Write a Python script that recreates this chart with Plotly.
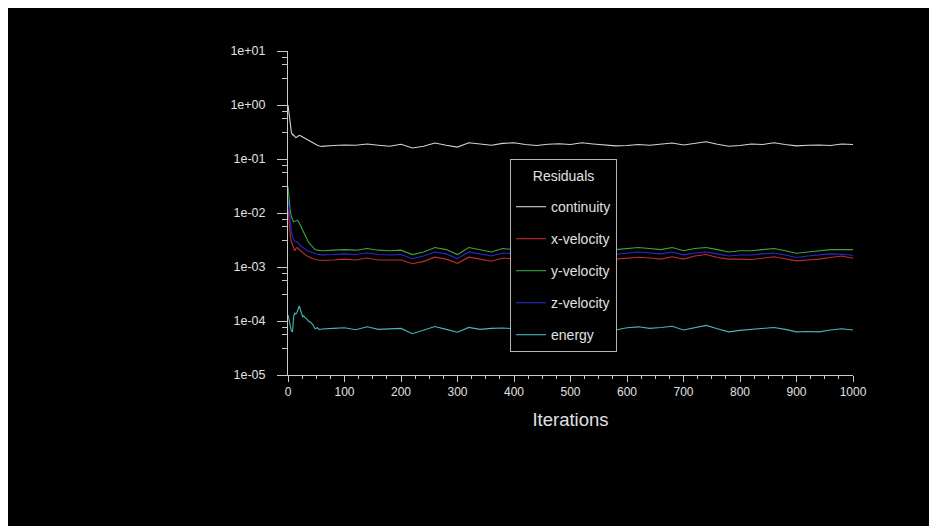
import plotly.graph_objects as go

# ---------------- data ----------------
iterations = [0, 2, 4, 6, 8, 10, 12, 14, 16, 18, 20, 22, 24, 26, 28, 30, 33, 36, 40, 44, 48, 52, 56,
              60, 80, 100, 120, 140, 160, 180, 200, 220, 240, 260, 280, 300, 320, 340, 360, 380,
              400, 420, 440, 460, 480, 500, 520, 540, 560, 580, 600, 620, 640, 660, 680, 700,
              720, 740, 760, 780, 800, 820, 840, 860, 880, 900, 920, 940, 960, 980, 1000]

continuity = [1.0, 0.62, 0.38, 0.31, 0.28, 0.28, 0.26, 0.25, 0.255, 0.265, 0.275, 0.27, 0.262, 0.255,
              0.248, 0.242, 0.235, 0.222, 0.208, 0.196, 0.186, 0.179, 0.174,
              0.171, 0.178, 0.182, 0.18, 0.19, 0.18, 0.172, 0.188, 0.16, 0.172, 0.198, 0.18, 0.166,
              0.2, 0.19, 0.18, 0.195, 0.2, 0.185, 0.178, 0.188, 0.192, 0.185, 0.2, 0.19, 0.182,
              0.175, 0.178, 0.185, 0.18, 0.19, 0.198, 0.182, 0.195, 0.208, 0.188, 0.172, 0.178,
              0.19, 0.185, 0.2, 0.185, 0.175, 0.18, 0.182, 0.178, 0.19, 0.185]

x_velocity = [0.012, 0.0065, 0.0038, 0.0029, 0.0025, 0.0021, 0.002, 0.0022, 0.0023, 0.0022, 0.0021,
              0.002, 0.0019, 0.00185, 0.0018, 0.0017, 0.00162, 0.00155, 0.00148, 0.00142, 0.00138,
              0.00135, 0.00133,
              0.00132, 0.00135, 0.0014, 0.00135, 0.00147, 0.00135, 0.00133, 0.00135, 0.00115,
              0.00127, 0.00152, 0.0014, 0.00117, 0.00152, 0.0014, 0.00128, 0.00147, 0.0014,
              0.00128, 0.00133, 0.0014, 0.00147, 0.00133, 0.0014, 0.00128, 0.0014, 0.0014,
              0.00145, 0.00152, 0.00147, 0.0014, 0.00155, 0.0014, 0.0016, 0.0017, 0.0015, 0.0014,
              0.0014, 0.00138, 0.00145, 0.00155, 0.00142, 0.0013, 0.00135, 0.0014, 0.0015, 0.0016,
              0.00145]

y_velocity = [0.031, 0.016, 0.011, 0.0085, 0.0072, 0.0068, 0.007, 0.0073, 0.0074, 0.0071, 0.0066,
              0.006, 0.0054, 0.0048, 0.0043, 0.0039, 0.0034, 0.0029, 0.0026, 0.0023, 0.0021,
              0.00205, 0.002,
              0.002, 0.00205, 0.0021, 0.00205, 0.0022, 0.00205, 0.002, 0.00205, 0.0017, 0.0019,
              0.0023, 0.0021, 0.0017, 0.0023, 0.0021, 0.0019, 0.0022, 0.0021, 0.0019, 0.002,
              0.0021, 0.0022, 0.002, 0.0021, 0.0019, 0.0021, 0.0021, 0.0022, 0.0023, 0.0022,
              0.0021, 0.0023, 0.002, 0.0022, 0.0023, 0.0021, 0.0019, 0.002, 0.002, 0.0021, 0.0022,
              0.002, 0.0018, 0.0019, 0.002, 0.0021, 0.0021, 0.0021]

z_velocity = [0.019, 0.0105, 0.0065, 0.0045, 0.0036, 0.0032, 0.003, 0.0029, 0.0029, 0.0028, 0.0026,
              0.0025, 0.0024, 0.0023, 0.0022, 0.0021, 0.00205, 0.00195, 0.00188, 0.0018, 0.00175,
              0.00172, 0.0017,
              0.00168, 0.0017, 0.00175, 0.0017, 0.00182, 0.0017, 0.00167, 0.0017, 0.00142, 0.0016,
              0.0019, 0.00175, 0.00143, 0.0019, 0.00175, 0.0016, 0.00182, 0.00175, 0.0016,
              0.00167, 0.00175, 0.00182, 0.00167, 0.00175, 0.0016, 0.00172, 0.00172, 0.00182,
              0.0019, 0.00182, 0.00175, 0.0019, 0.00168, 0.00182, 0.0019, 0.00175, 0.0016,
              0.00167, 0.00167, 0.00175, 0.00182, 0.00167, 0.0015, 0.0016, 0.00167, 0.00175,
              0.00172, 0.00165]

energy = [1.3e-4, 1.0e-4, 7.5e-5, 6.5e-5, 6.4e-5, 1.2e-4, 1.4e-4, 1.35e-4, 1.45e-4, 1.65e-4, 1.9e-4,
          1.6e-4, 1.35e-4, 1.2e-4, 1.25e-4, 1.15e-4, 1.1e-4, 1.0e-4, 9.5e-5, 8.5e-5, 7.2e-5, 7.5e-5,
          6.9e-5,
          7.1e-5, 7.3e-5, 7.5e-5, 6.9e-5, 7.8e-5, 7.0e-5, 7.2e-5, 7.3e-5, 5.8e-5, 6.8e-5, 7.9e-5,
          7.0e-5, 6.2e-5, 7.6e-5, 7.0e-5, 7.3e-5, 7.4e-5, 7.2e-5, 6.9e-5, 7.1e-5, 7.4e-5, 7.0e-5,
          7.2e-5, 7.5e-5, 7.0e-5, 7.3e-5, 6.8e-5, 7.5e-5, 7.8e-5, 7.3e-5, 7.6e-5, 8.0e-5, 6.8e-5,
          7.5e-5, 8.3e-5, 7.2e-5, 6.3e-5, 6.7e-5, 7.0e-5, 7.3e-5, 7.6e-5, 7.0e-5, 6.3e-5, 6.4e-5,
          6.3e-5, 6.8e-5, 7.2e-5, 6.8e-5]

series_names = ["continuity", "x-velocity", "y-velocity", "z-velocity", "energy"]
series_values = [continuity, x_velocity, y_velocity, z_velocity, energy]
series_colors = ["#d2d2d2", "#c42a2a", "#3aa83a", "#2a2ad0", "#4ab4b8"]

y_tickvals = [1e-5, 1e-4, 1e-3, 1e-2, 1e-1, 1e0, 1e1]
y_ticktext = ["1e-05", "1e-04", "1e-03", "1e-02", "1e-01", "1e+00", "1e+01"]
x_tickvals = [0, 100, 200, 300, 400, 500, 600, 700, 800, 900, 1000]

# ---------------- figure ----------------
AX = "#c8c8c8"
TXT = "#e0e0e0"
FONT = "Liberation Sans, Arial, sans-serif"

fig = go.Figure()
for name, vals, col in zip(series_names, series_values, series_colors):
    fig.add_trace(go.Scatter(
        x=iterations, y=vals, mode="lines", name=name, legendgroup=name,
        line=dict(color=col, width=1.1),
    ))

minor_y = [10 ** (k + f) for k in range(-5, 1) for f in (0.5, 0.75, 0.875)]

fig.update_layout(
    width=929, height=523,
    margin=dict(l=280, r=84, t=43, b=156),
    paper_bgcolor="white",
    plot_bgcolor="black",
    font=dict(family=FONT, color=TXT, size=12),
    showlegend=True,
    legend=dict(
        x=0.393, y=0.667, xanchor="left", yanchor="top",
        bgcolor="black", bordercolor="#b4b4b4", borderwidth=1,
        font=dict(size=14, color=TXT),
        title=dict(text=' <br><span style="font-size:14px">Residuals</span><br> ',
                   side="top center", font=dict(size=8, color=TXT)),
        tracegroupgap=10.8, itemwidth=30,
    ),
    shapes=[dict(type="rect", xref="paper", yref="paper", layer="below",
                 x0=-0.4956, x1=1.1363, y0=-0.466, y1=1.1327,
                 fillcolor="black", line=dict(width=0))],
)

fig.update_xaxes(
    range=[0, 1000], tickvals=x_tickvals, showgrid=False, zeroline=False,
    showline=True, linecolor=AX, linewidth=1,
    ticks="outside", ticklen=6, tickcolor=AX, tickwidth=1,
    tickfont=dict(size=12, color=TXT),
    minor=dict(dtick=25, ticks="outside", ticklen=3, tickcolor=AX, showgrid=False),
    title=dict(text="Iterations", font=dict(size=18.5, color=TXT), standoff=14),
)
fig.update_yaxes(
    type="log", range=[-5, 1], tickvals=y_tickvals, ticktext=y_ticktext,
    showgrid=False, zeroline=False,
    showline=True, linecolor=AX, linewidth=1,
    ticks="outside", ticklen=10, tickcolor=AX, tickwidth=1, ticklabelstandoff=9,
    tickfont=dict(size=12.5, color=TXT),
    minor=dict(tickvals=minor_y, ticks="outside", ticklen=5, tickcolor=AX, showgrid=False),
)

fig.write_html("out.html")
